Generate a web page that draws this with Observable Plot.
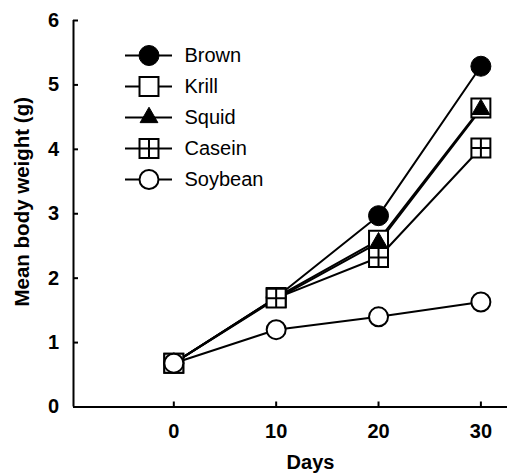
<!DOCTYPE html>
<html><head><meta charset="utf-8">
<script src="https://cdn.jsdelivr.net/npm/d3@7"></script>
<script src="https://cdn.jsdelivr.net/npm/@observablehq/plot@0.6"></script>
<style>
body{margin:0;background:#fff;}
#wrap{position:relative;width:507px;height:474px;font-family:"Liberation Sans",Arial,sans-serif;}
#legend{position:absolute;left:118px;top:38px;}
</style></head><body><div id="wrap"><div id="chart"></div><div id="legend"></div></div>
<script>
const days = [0, 10, 20, 30];
const seriesNames = ["Brown", "Krill", "Squid", "Casein", "Soybean"];
const brown = [0.68, 1.70, 2.97, 5.29];
const krill = [0.68, 1.70, 2.59, 4.64];
const squid = [0.68, 1.68, 2.55, 4.62];
const casein = [0.68, 1.69, 2.32, 4.02];
const soybean = [0.68, 1.20, 1.40, 1.63];
const xTicks = [0, 10, 20, 30];
const yTicks = [0, 1, 2, 3, 4, 5, 6];
const xDomain = [-9.8, 32.6];
const yDomain = [0, 6];
const xLabel = "Days";
const yLabel = "Mean body weight (g)";

const values = {Brown: brown, Krill: krill, Squid: squid, Casein: casein, Soybean: soybean};
const rows = seriesNames.flatMap(s => days.map((d, i) => ({series: s, day: d, weight: values[s][i]})));

const squarePlus = {
  draw(ctx, size) {
    const h = Math.sqrt(size) / 2;
    ctx.moveTo(-h, -h); ctx.lineTo(h, -h); ctx.lineTo(h, h); ctx.lineTo(-h, h); ctx.closePath();
    ctx.moveTo(0, -h); ctx.lineTo(0, h);
    ctx.moveTo(-h, 0); ctx.lineTo(h, 0);
  }
};
const markerStyle = {
  Brown: {symbol: "circle", r: 10, fill: "black", stroke: "black", strokeWidth: 1},
  Krill: {symbol: "square", r: 10.7, fill: "white", stroke: "black", strokeWidth: 2},
  Squid: {symbol: "triangle", r: 6.6, fill: "black", stroke: "black", strokeWidth: 1},
  Casein: {symbol: squarePlus, r: 10.7, fill: "white", stroke: "black", strokeWidth: 2},
  Soybean: {symbol: "circle", r: 9.5, fill: "white", stroke: "black", strokeWidth: 2}
};

const chart = Plot.plot({
  width: 507, height: 474,
  marginLeft: 73, marginRight: 0, marginTop: 20, marginBottom: 67.5,
  x: {domain: xDomain},
  y: {domain: yDomain},
  style: {fontFamily: "'Liberation Sans', Arial, sans-serif", fontSize: "20px", fontWeight: "bold", color: "black", background: "white", overflow: "visible"},
  marks: [
    Plot.axisY(yTicks, {tickSize: -5, tickPadding: 19.5, strokeWidth: 2, label: null, tickFormat: d3.format("d"), fontSize: 20}),
    Plot.axisX(xTicks, {tickSize: -5, tickPadding: 22, strokeWidth: 2, label: null, tickFormat: d3.format("d"), fontSize: 20}),
    Plot.ruleY([yDomain[0]], {strokeWidth: 2}),
    Plot.ruleX([xDomain[0]], {strokeWidth: 2}),
    Plot.line(rows, {x: "day", y: "weight", z: "series", stroke: "black", strokeWidth: 2}),
    ...seriesNames.map(s => Plot.dot(rows.filter(r => r.series === s), {x: "day", y: "weight", ...markerStyle[s]})),
    Plot.text([yLabel], {text: d => d, frameAnchor: "left", textAnchor: "middle", lineAnchor: "middle", rotate: -90, dx: -51, dy: -12, fontSize: 20.5, fontWeight: "bold"}),
    Plot.text([xLabel], {text: d => d, frameAnchor: "bottom", textAnchor: "middle", lineAnchor: "middle", dx: 20, dy: 56, fontSize: 20, fontWeight: "bold"})
  ]
});
document.getElementById("chart").append(chart);

const legend = Plot.plot({
  width: 170, height: 160, margin: 0,
  x: {domain: [0, 1], range: [7, 54], axis: null},
  y: {type: "point", domain: seriesNames, range: [17, 141], padding: 0, axis: null},
  style: {fontFamily: "'Liberation Sans', Arial, sans-serif", fontSize: "20px", color: "black", background: "transparent", overflow: "visible"},
  marks: [
    Plot.ruleY(seriesNames, {y: d => d, x1: () => 0, x2: () => 1, stroke: "black", strokeWidth: 2}),
    ...seriesNames.map(s => Plot.dot([s], {x: () => 0.5, y: d => d, ...markerStyle[s]})),
    Plot.text(seriesNames, {x: () => 1, y: d => d, text: d => d, dx: 12, textAnchor: "start", fontSize: 20})
  ]
});
document.getElementById("legend").append(legend);
</script>
</body></html>
